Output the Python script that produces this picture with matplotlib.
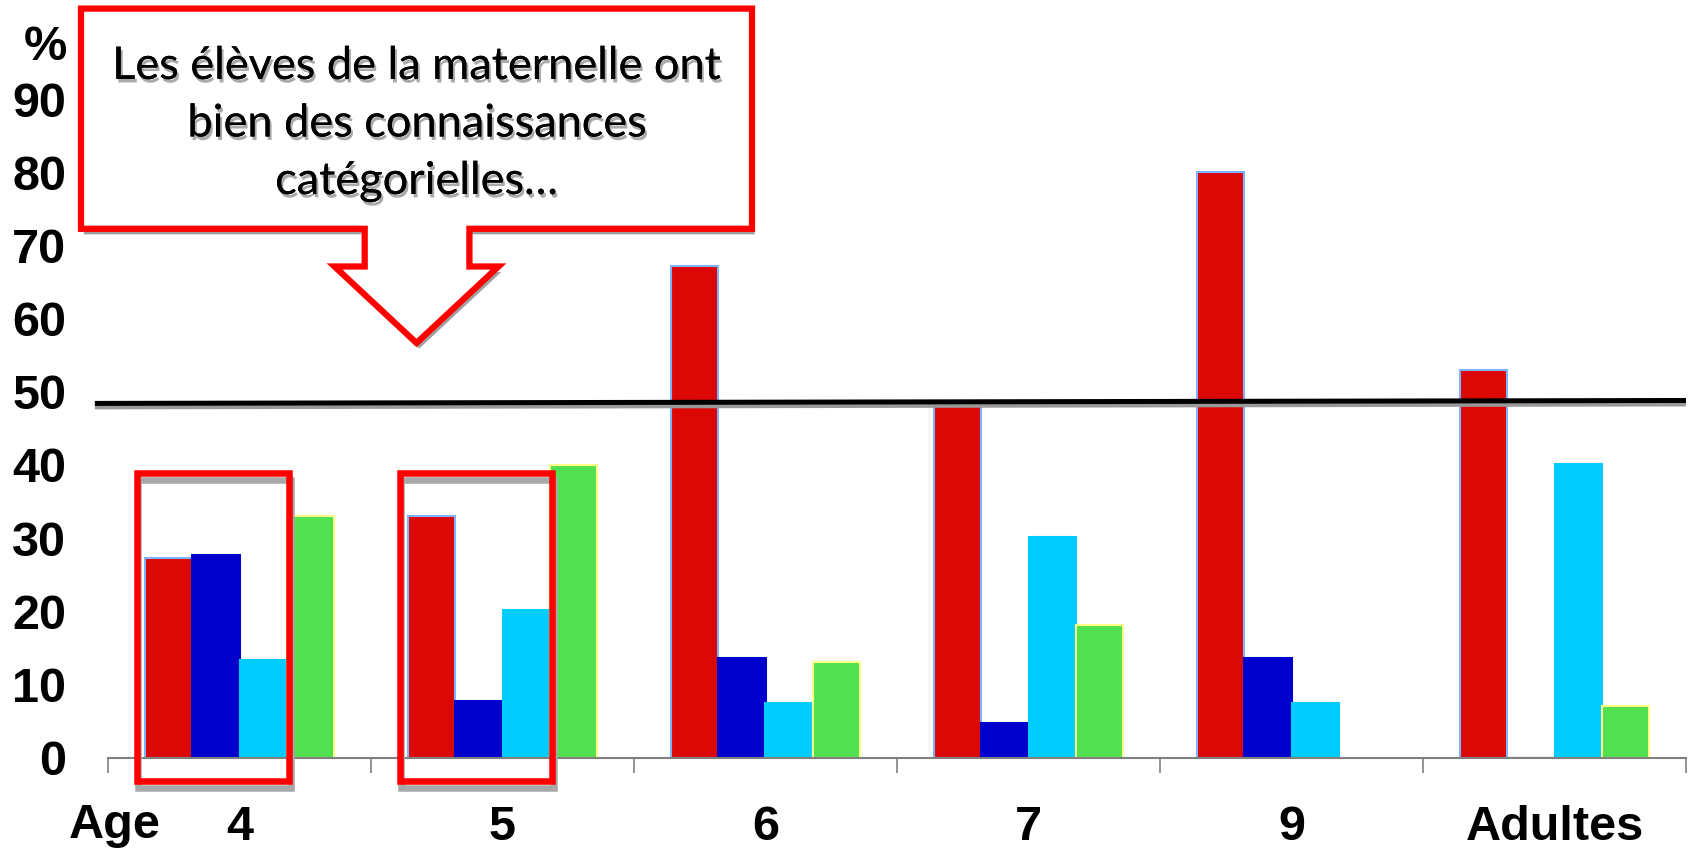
import numpy as np
import matplotlib.pyplot as plt
import matplotlib.patheffects as pe
from matplotlib.patches import Polygon, Rectangle

# 데이터
ages = ['4', '5', '6', '7', '9', 'Adultes']
rouge = [27.3, 33.0, 67.2, 48.0, 80.0, 53.0]
bleu = [27.7, 7.7, 13.6, 4.7, 13.6, 0]
cyan = [13.3, 20.2, 7.4, 30.2, 7.4, 40.1]
vert = [33.0, 40.0, 13.1, 18.1, 0, 7.1]
y_ticks = [0, 10, 20, 30, 40, 50, 60, 70, 80, 90]
ligne_ref = [48.4, 48.8]   # ligne horizontale (gauche, droite)
groupes_encadres = [0, 1]  # groupes entourés en rouge
texte_bulle = "Les élèves de la maternelle ont\nbien des connaissances\ncatégorielles…"

W, H = 1692, 852
fig = plt.figure(figsize=(W / 100, H / 100), dpi=100)
ax = fig.add_axes([108 / W, 1 - 757.5 / H, (1686 - 108) / W, 731.6 / H])

x = np.arange(len(ages))
bw = 0.18
series = [
    (rouge, '#DC0805', '#7FB2FF'),
    (bleu, '#0000CC', '#0000CC'),
    (cyan, '#00CCFF', '#00CCFF'),
    (vert, '#50E050', '#FFFF88'),
]
for k, (vals, fc, ec) in enumerate(series):
    ax.bar(x + (k - 1.5) * bw, vals, width=bw, color=fc, edgecolor=ec,
           linewidth=1.5, zorder=2)

ax.set_xlim(-0.5, len(ages) - 0.5)
ax.set_ylim(0, 100)

# axes
for s in ['left', 'top', 'right']:
    ax.spines[s].set_visible(False)
ax.spines['bottom'].set_color('#808080')
ax.spines['bottom'].set_linewidth(1.5)
ax.set_xticks(x)
ax.set_xticklabels(ages)
ax.set_xticks(np.arange(len(ages) + 1) - 0.5, minor=True)
ax.tick_params(axis='x', which='major', length=0, pad=34)
ax.tick_params(axis='x', which='minor', length=11, width=1.2, color='#808080')
ax.set_yticks(y_ticks)
ax.tick_params(axis='y', length=0, pad=30)
for lab in ax.get_xticklabels() + ax.get_yticklabels():
    lab.set_fontfamily('Liberation Sans')
    lab.set_fontweight('bold')
    lab.set_fontsize(35)

fig.text(45 / W, 1 - 48 / H, '%', ha='center', va='center',
         fontsize=35, fontweight='bold', family='Liberation Sans')
fig.text(115 / W, 1 - 826 / H, 'Age', ha='center', va='center',
         fontsize=35, fontweight='bold', family='Liberation Sans')

# ligne de référence
ax.plot([-0.55, len(ages) - 0.5], ligne_ref, color='black', lw=3.6,
        clip_on=False, zorder=4, solid_capstyle='butt',
        path_effects=[pe.SimpleLineShadow(offset=(0, -2.5), shadow_color='#999999', alpha=1),
                      pe.Normal()])

# cadres rouges
for g in groupes_encadres:
    r = Rectangle((g - 0.39, -3.2), 0.58, 42.1, fill=False, edgecolor='#FF0000',
                  lw=4.7, clip_on=False, zorder=5, joinstyle='miter',
                  path_effects=[pe.SimpleLineShadow(offset=(1, -5), shadow_color='#a8a8a8', alpha=1),
                                pe.Normal()])
    ax.add_patch(r)

# bulle
pts = [(81, 8.6), (752, 8.6), (752, 228.8), (469.4, 228.8), (469.4, 266.5),
       (498.5, 266.5), (416.5, 343), (334.5, 266.5), (364.7, 266.5),
       (364.7, 228.8), (81, 228.8)]
pts = [(px / W, 1 - py / H) for px, py in pts]
bulle = Polygon(pts, closed=True, facecolor='white', edgecolor='#FF0000', lw=4.5,
                transform=fig.transFigure, zorder=10, joinstyle='miter',
                path_effects=[pe.withSimplePatchShadow(offset=(2, -4), shadow_rgbFace='#a0a0a0', alpha=1)])
fig.add_artist(bulle)
t = fig.text(416.5 / W, 1 - 124 / H, texte_bulle, ha='center', va='center',
             fontsize=32.5, family='Lato', linespacing=1.5, zorder=11,
             path_effects=[pe.withSimplePatchShadow(offset=(1.5, -2.5), shadow_rgbFace='#aaaaaa', alpha=1),
                           pe.Normal()])

fig.savefig('out.png', dpi=100)
